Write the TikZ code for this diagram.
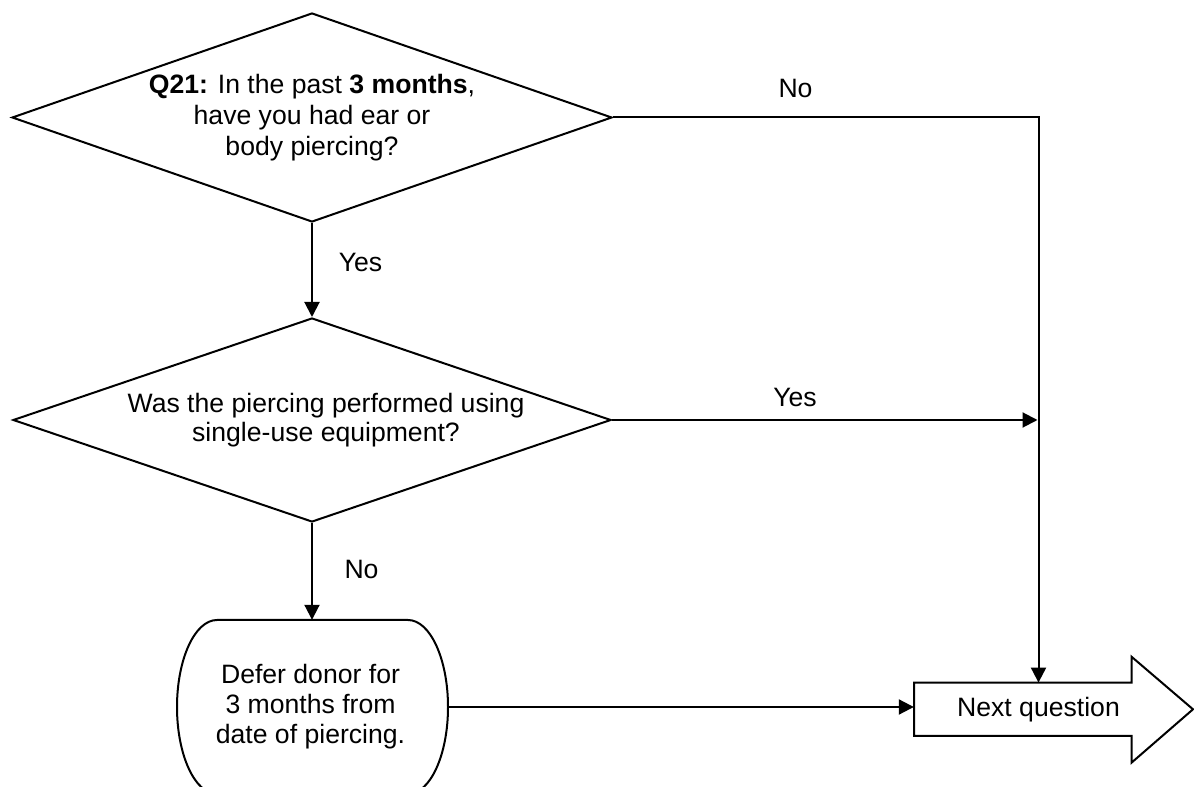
\documentclass[tikz,border=0pt]{standalone}
\usepackage{fontspec}
\setmainfont{Liberation Sans}
\usetikzlibrary{shapes.geometric,arrows.meta}
\begin{document}
\begin{tikzpicture}[x=1pt,y=1pt,
  every node/.style={font=\fontsize{26.6}{31}\selectfont, inner sep=0pt},
  line/.style={line width=2pt},
  arr/.style={line width=2pt,-{Triangle[length=15pt,width=15pt]}},
  decision/.style={diamond, draw, line width=2pt, aspect=2.88},
  lbl/.style={anchor=base}
]
\useasboundingbox (0,0) rectangle (1194,787);
% decisions
\node[decision, minimum width=600pt, minimum height=209pt, align=center] (d1) at (312,669.5)
  {\textbf{Q21:} In the past \textbf{3 months},\\have you had ear or\\body piercing?};
\node[decision, minimum width=598pt, minimum height=204pt] (d2) at (312,367) {};
\node[align=center, font=\fontsize{26.6}{28.5}\selectfont] (d2t) at (326,367)
  {Was the piercing performed using\\single-use equipment?};
% terminal
\node[minimum width=271pt, minimum height=174pt, align=center, font=\fontsize{26.6}{30}\selectfont] (term) at (310.5,80)
  {Defer donor for\\3 months from\\date of piercing.};
\draw[line] (217,167) -- (408,167) arc[start angle=90, end angle=-90, x radius=40, y radius=87]
  -- (217,-7) arc[start angle=270, end angle=90, x radius=40, y radius=87] -- cycle;
% next question arrow
\node[minimum width=249pt, minimum height=53pt] (nq) at (1038.5,77.7) {Next question};
\draw[line] (914,104.3) -- (1131.5,104.3) -- (1131.5,130.3) -- (1193,77.7)
  -- (1131.5,24.3) -- (1131.5,51.2) -- (914,51.2) -- cycle;
% connectors
\draw[arr] (d1.east) -- (d1.east -| nq.north) -- (nq.north);
\draw[arr] (d1.south) -- (d2.north);
\draw[arr, shorten >=1pt] (d2.east) -- (d2.east -| nq.north);
\draw[arr] (d2.south) -- (d2.south |- term.north);
\draw[arr] (term.east -| 448,0) -- (term.east -| nq.west);
% labels
\node[lbl] (lno1) at (795.5,689) {No};
\node[lbl] (lyes1) at (360.5,515) {Yes};
\node[lbl] (lyes2) at (795,380) {Yes};
\node[lbl] (lno2) at (361.5,208) {No};
\end{tikzpicture}
\end{document}
